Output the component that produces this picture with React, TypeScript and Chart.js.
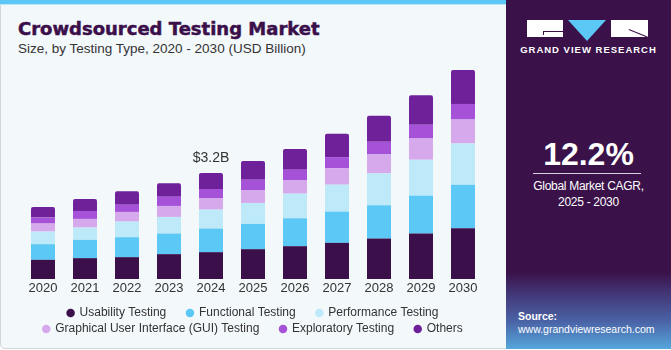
import React, { useEffect, useRef } from "react";
import { Chart, registerables } from "chart.js";

Chart.register(...registerables);

const years = ["2020", "2021", "2022", "2023", "2024", "2025", "2026", "2027", "2028", "2029", "2030"];
const usability = [0.58, 0.63, 0.66, 0.75, 0.81, 0.9, 0.99, 1.09, 1.22, 1.37, 1.53];
const functional = [0.47, 0.55, 0.6, 0.62, 0.71, 0.76, 0.84, 0.94, 1.0, 1.14, 1.31];
const performance = [0.38, 0.37, 0.47, 0.5, 0.57, 0.63, 0.74, 0.81, 0.96, 1.08, 1.24];
const gui = [0.24, 0.26, 0.29, 0.33, 0.35, 0.39, 0.41, 0.5, 0.57, 0.64, 0.72];
const exploratory = [0.18, 0.24, 0.22, 0.28, 0.27, 0.31, 0.31, 0.33, 0.38, 0.41, 0.47];
const others = [0.32, 0.36, 0.4, 0.4, 0.48, 0.56, 0.62, 0.7, 0.78, 0.89, 1.02];

const seriesNames = [
  "Usability Testing",
  "Functional Testing",
  "Performance Testing",
  "Graphical User Interface (GUI) Testing",
  "Exploratory Testing",
  "Others",
];
const seriesColors = ["#3a0f4a", "#5bc8f5", "#bde9f9", "#d6a9ec", "#a652d8", "#6f2199"];
const annotationIndex = 4;
const annotationText = "$3.2B";

const FONT = "'Liberation Sans', Arial, sans-serif";

export default function App() {
  const ref = useRef<HTMLCanvasElement | null>(null);

  useEffect(() => {
    if (!ref.current) return;
    const seriesData = [usability, functional, performance, gui, exploratory, others];
    const labelPlugin = {
      id: "topLabel",
      afterDatasetsDraw(chart: any) {
        const meta = chart.getDatasetMeta(chart.data.datasets.length - 1);
        const el = meta.data[annotationIndex];
        if (!el) return;
        const ctx = chart.ctx;
        ctx.save();
        ctx.font = `14px ${FONT}`;
        ctx.fillStyle = "#333333";
        ctx.textAlign = "center";
        ctx.textBaseline = "middle";
        ctx.fillText(annotationText, el.x, el.y - 15);
        ctx.restore();
      },
    };
    const chart = new Chart(ref.current, {
      type: "bar",
      data: {
        labels: years,
        datasets: seriesData.map((d, i) => ({
          label: seriesNames[i],
          data: d,
          backgroundColor: seriesColors[i],
          borderWidth: 0,
          borderRadius: i === 5 ? { topLeft: 2, topRight: 2, bottomLeft: 0, bottomRight: 0 } : 0,
          borderSkipped: false,
          categoryPercentage: 1,
          barPercentage: 0.571,
        })),
      },
      options: {
        responsive: false,
        animation: false,
        layout: { padding: { left: 22, right: 22, top: 63, bottom: 5 } },
        scales: {
          x: {
            stacked: true,
            grid: { display: false, drawTicks: false },
            border: { display: false },
            ticks: { color: "#333333", font: { family: FONT, size: 13 }, padding: 2 },
            afterFit(scale: any) {
              scale.height += 4.3;
            },
          },
          y: {
            stacked: true,
            display: false,
            min: 0,
            max: 6.5,
          },
        },
        plugins: {
          legend: {
            position: "bottom",
            labels: {
              usePointStyle: true,
              pointStyle: "circle",
              boxWidth: 6,
              boxHeight: 6,
              padding: 4,
              color: "#333333",
              font: { family: FONT, size: 12 },
              generateLabels(c: any) {
                const base = Chart.defaults.plugins.legend.labels.generateLabels(c);
                return base.map((l: any, i: number) => ({
                  ...l,
                  text: i === 2 || i === 5 ? l.text : l.text + "     ",
                  lineWidth: 0,
                }));
              },
            },
          },
          tooltip: { enabled: false },
        },
      },
      plugins: [labelPlugin],
    });
    return () => chart.destroy();
  }, []);

  return (
    <div
      style={{
        position: "fixed",
        left: 0,
        top: 0,
        width: 671,
        height: 350,
        overflow: "hidden",
        background: "#ffffff",
        fontFamily: FONT,
      }}
    >
      <div
        style={{
          position: "absolute",
          left: 0,
          top: 0,
          width: 530,
          height: 349,
          background: "#f3f8fb",
          border: "1px solid #d3d6d9",
          borderRadius: "0 0 0 5px",
          boxSizing: "border-box",
        }}
      />
      <div style={{ position: "absolute", left: 0, top: 0, width: 530, height: 4, background: "#5bc8f5" }} />
      <div style={{ position: "absolute", left: 0, top: 4, width: 530, height: 1, background: "#bfe6f7" }} />
      <div
        style={{
          position: "absolute",
          left: 18,
          top: 18,
          fontFamily: "'DejaVu Sans', sans-serif",
          fontWeight: 700,
          fontSize: 18,
          lineHeight: "22px",
          color: "#3a0f4a",
          WebkitTextStroke: "0.5px #3a0f4a",
          whiteSpace: "nowrap",
        }}
      >
        Crowdsourced Testing Market
      </div>
      <div
        style={{
          position: "absolute",
          left: 18,
          top: 41,
          fontSize: 13.5,
          lineHeight: "16px",
          color: "#333333",
          whiteSpace: "nowrap",
        }}
      >
        Size, by Testing Type, 2020 - 2030 (USD Billion)
      </div>
      <canvas ref={ref} width={506} height={350} style={{ position: "absolute", left: 0, top: 0, width: 506, height: 350 }} />
      <div
        style={{
          position: "absolute",
          left: 506,
          top: 0,
          width: 165,
          height: 349,
          background: "linear-gradient(180deg, #3a1149 0%, #3a1149 78%, #41306f 83%, #4a62a6 92%, #55a7dc 100%)",
          color: "#ffffff",
        }}
      >
        <div style={{ position: "absolute", left: 21, top: 20, width: 36, height: 17, background: "#ffffff" }}>
          <div style={{ position: "absolute", left: 16, top: 11, width: 20, height: 1, background: "#3a1149" }} />
          <div style={{ position: "absolute", left: 16, top: 11, width: 1, height: 4, background: "#3a1149" }} />
        </div>
        <div
          style={{
            position: "absolute",
            left: 62,
            top: 20,
            width: 0,
            height: 0,
            borderLeft: "19px solid transparent",
            borderRight: "19px solid transparent",
            borderTop: "21px solid #5bc8f5",
          }}
        />
        <div style={{ position: "absolute", left: 105, top: 20, width: 37, height: 17, background: "#ffffff" }}>
          <div
            style={{
              position: "absolute",
              left: 18,
              top: 9,
              width: 20,
              height: 1,
              background: "#3a1149",
              transform: "rotate(22deg)",
              transformOrigin: "0 0",
            }}
          />
        </div>
        <div
          style={{
            position: "absolute",
            left: 0,
            width: 165,
            top: 44,
            textAlign: "center",
            fontWeight: 700,
            fontSize: 9.5,
            letterSpacing: 1,
            lineHeight: "12px",
            whiteSpace: "nowrap",
          }}
        >
          GRAND VIEW RESEARCH
        </div>
        <div
          style={{
            position: "absolute",
            left: 0,
            width: 165,
            top: 136,
            textAlign: "center",
            fontWeight: 700,
            fontSize: 32,
            lineHeight: "36px",
          }}
        >
          12.2%
        </div>
        <div style={{ position: "absolute", left: 27, top: 173, width: 108, height: 1, background: "#d9cde0" }} />
        <div
          style={{
            position: "absolute",
            left: 0,
            width: 165,
            top: 178,
            textAlign: "center",
            fontSize: 12,
            letterSpacing: -0.3,
            lineHeight: "16px",
          }}
        >
          Global Market CAGR,
          <br />
          2025 - 2030
        </div>
        <div style={{ position: "absolute", left: 12, top: 309, fontSize: 10.5, fontWeight: 700, lineHeight: "14px" }}>
          Source:
        </div>
        <div style={{ position: "absolute", left: 12, top: 322, fontSize: 10.5, lineHeight: "14px", whiteSpace: "nowrap" }}>
          www.grandviewresearch.com
        </div>
      </div>
    </div>
  );
}
